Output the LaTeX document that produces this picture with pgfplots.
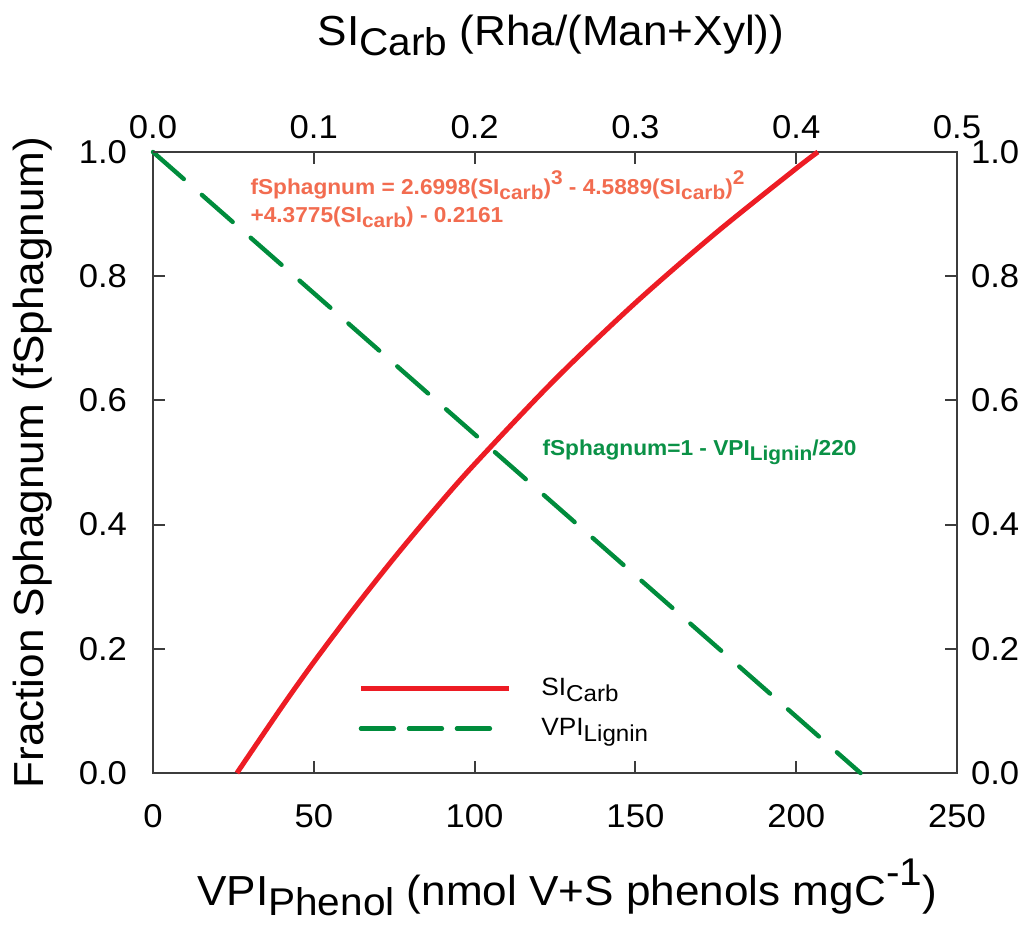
\documentclass[border=0pt]{standalone}
\usepackage{graphicx}
\usepackage{fontspec}
\setmainfont{Liberation Sans}[FakeStretch=1.05]
\usepackage{pgfplots}
\pgfplotsset{compat=1.18}
\definecolor{cRed}{RGB}{237,28,36}
\definecolor{cGreen}{RGB}{0,140,60}
\definecolor{tRed}{RGB}{242,108,80}
\definecolor{tGreen}{RGB}{10,145,70}
\definecolor{axgray}{RGB}{60,60,60}
\newcommand{\lo}[1]{\raisebox{-0.45ex}{\scalebox{0.92}{#1}}}
\newcommand{\hi}[1]{\raisebox{0.9ex}{\scalebox{0.92}{#1}}}
\begin{document}
\begin{tikzpicture}
\pgfplotsset{
  common/.style={
    scale only axis, width=402pt, height=310.5pt,
    ymin=0, ymax=1,
    ytick={0,0.2,0.4,0.6,0.8,1},
    axis line style={line width=1pt, draw=axgray},
    tick style={line width=1pt, draw=axgray},
    major tick length=6pt,
    tick align=inside,
    tick label style={font=\fontsize{16.5}{19}\selectfont},
    /pgf/number format/assume math mode=true,
    yticklabel style={/pgf/number format/fixed, /pgf/number format/fixed zerofill, /pgf/number format/precision=1},
    clip=false,
  }
}
\begin{axis}[common,
  xmin=0, xmax=250,
  xtick={0,50,100,150,200,250},
  xtick pos=both, xticklabel pos=lower, ytick pos=left,
  xticklabel style={yshift=-12pt},
  yticklabel style={xshift=-9.5pt},
  xlabel={VPI\lo{Phenol} (nmol V+S phenols mgC\hi{-1})},
  ylabel={Fraction Sphagnum (fSphagnum)},
  label style={font=\fontsize{21}{24}\selectfont},
  xlabel style={at={(axis description cs:0.515,-0.2126)}, anchor=base},
  ylabel style={at={(axis description cs:-0.15,0.5)}, anchor=center},
]
\addplot[cGreen, line width=2.2pt, line cap=round, dash pattern=on 20.5pt off 12pt]
  coordinates {(0,1) (220,0)};
\node[anchor=base west, inner sep=0pt, text=tRed, font=\fontsize{10.8}{12}\selectfont\bfseries]
  at (axis cs:30.2,0.931) {fSphagnum = 2.6998(SI\lo{carb})\hi{3} - 4.5889(SI\lo{carb})\hi{2}};
\node[anchor=base west, inner sep=0pt, text=tRed, font=\fontsize{10.8}{12}\selectfont\bfseries]
  at (axis cs:30.2,0.886) {+4.3775(SI\lo{carb}) - 0.2161};
\node[anchor=base west, inner sep=0pt, text=tGreen, font=\fontsize{10.8}{12}\selectfont\bfseries]
  at (axis cs:121,0.512) {fSphagnum=1 - VPI\lo{Lignin}/220};
\end{axis}
\begin{axis}[common,
  xmin=0, xmax=0.5,
  xtick={0,0.1,0.2,0.3,0.4,0.5},
  axis x line*=top, axis y line*=right,
  xtick style={draw=none},
  xticklabel style={yshift=3pt, /pgf/number format/fixed, /pgf/number format/fixed zerofill, /pgf/number format/precision=1},
  yticklabel style={xshift=3.5pt},
  xlabel={SI\lo{Carb} (Rha/(Man+Xyl))},
  xlabel style={font=\fontsize{21}{24}\selectfont, at={(axis description cs:0.495,1.172)}, anchor=base},
  legend style={draw=none, fill=none, at={(axis description cs:0.255,0.16)}, anchor=north west,
    font=\fontsize{12.5}{14}\selectfont, row sep=6pt, inner sep=0pt,
    legend cell align=left},
  legend image code/.code={\draw[#1] (0pt,0pt) -- (74pt,0pt);},
]
\addplot[cRed, line width=2.5pt, smooth] coordinates {
  (0.0522,0) (0.08,0.1059) (0.1,0.1786) (0.125,0.2646) (0.15,0.3464)
  (0.175,0.4239) (0.2,0.4974) (0.25,0.6337) (0.3,0.7571) (0.35,0.8696)
  (0.4,0.9735) (0.4135,1.0)};
\addlegendentry{\hspace{13pt}SI\lo{Carb}}
\addlegendimage{legend image code/.code={\draw[cGreen, line width=2.2pt, line cap=round, dash pattern=on 16.5pt off 7.5pt] (0pt,0pt) -- (65pt,0pt); \path (74pt,0pt);}}
\addlegendentry{\hspace{13pt}VPI\lo{Lignin}}
\end{axis}
\pgfresetboundingbox
\useasboundingbox (-76.5pt,-79.5pt) rectangle (439pt,386.5pt);
\end{tikzpicture}
\end{document}
